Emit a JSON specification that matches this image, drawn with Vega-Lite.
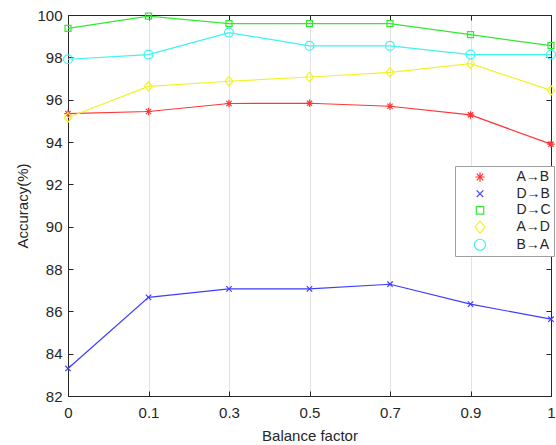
{
  "$schema": "https://vega.github.io/schema/vega-lite/v6.json",
  "width": 483,
  "height": 381,
  "autosize": "none",
  "padding": {"left": 68, "top": 15, "right": 5, "bottom": 49},
  "background": "white",
  "config": {
    "font": "Liberation Sans",
    "view": {"stroke": "#262626", "strokeWidth": 1},
    "axis": {
      "labelFont": "Liberation Sans",
      "titleFont": "Liberation Sans",
      "labelFontSize": 15,
      "titleFontSize": 15,
      "titleFontWeight": "normal",
      "labelColor": "#262626",
      "titleColor": "#262626",
      "domainColor": "#262626",
      "tickColor": "#262626",
      "tickSize": -5,
      "grid": false
    },
    "legend": {
      "labelFont": "Liberation Sans",
      "labelFontSize": 14,
      "labelColor": "#262626"
    }
  },
  "data": {
    "values": [
      {"f": "0", "s": "A→B", "v": 95.34},
      {"f": "0.1", "s": "A→B", "v": 95.44},
      {"f": "0.3", "s": "A→B", "v": 95.82},
      {"f": "0.5", "s": "A→B", "v": 95.83},
      {"f": "0.7", "s": "A→B", "v": 95.69},
      {"f": "0.9", "s": "A→B", "v": 95.28},
      {"f": "1", "s": "A→B", "v": 93.9},
      {"f": "0", "s": "D→B", "v": 83.3},
      {"f": "0.1", "s": "D→B", "v": 86.66},
      {"f": "0.3", "s": "D→B", "v": 87.06},
      {"f": "0.5", "s": "D→B", "v": 87.06},
      {"f": "0.7", "s": "D→B", "v": 87.28},
      {"f": "0.9", "s": "D→B", "v": 86.34},
      {"f": "1", "s": "D→B", "v": 85.63},
      {"f": "0", "s": "D→C", "v": 99.37},
      {"f": "0.1", "s": "D→C", "v": 99.95},
      {"f": "0.3", "s": "D→C", "v": 99.59},
      {"f": "0.5", "s": "D→C", "v": 99.59},
      {"f": "0.7", "s": "D→C", "v": 99.59},
      {"f": "0.9", "s": "D→C", "v": 99.07},
      {"f": "1", "s": "D→C", "v": 98.55},
      {"f": "0", "s": "A→D", "v": 95.16},
      {"f": "0.1", "s": "A→D", "v": 96.63},
      {"f": "0.3", "s": "A→D", "v": 96.87},
      {"f": "0.5", "s": "A→D", "v": 97.07},
      {"f": "0.7", "s": "A→D", "v": 97.29},
      {"f": "0.9", "s": "A→D", "v": 97.7},
      {"f": "1", "s": "A→D", "v": 96.44},
      {"f": "0", "s": "B→A", "v": 97.91},
      {"f": "0.1", "s": "B→A", "v": 98.13},
      {"f": "0.3", "s": "B→A", "v": 99.17},
      {"f": "0.5", "s": "B→A", "v": 98.54},
      {"f": "0.7", "s": "B→A", "v": 98.54},
      {"f": "0.9", "s": "B→A", "v": 98.13},
      {"f": "1", "s": "B→A", "v": 98.13}
    ]
  },
  "layer": [
    {
      "mark": {"type": "line", "strokeWidth": 1.2},
      "encoding": {
        "x": {
          "field": "f", "type": "ordinal",
          "sort": ["0", "0.1", "0.3", "0.5", "0.7", "0.9", "1"],
          "scale": {"type": "point", "padding": 0},
          "axis": {"orient": "bottom", "title": "Balance factor", "labelAngle": 0, "grid": true, "gridColor": "#e3e3e3", "labelPadding": 14, "titlePadding": 8}
        },
        "y": {
          "field": "v", "type": "quantitative",
          "scale": {"domain": [82, 100], "nice": false, "zero": false},
          "axis": {"orient": "left", "title": "Accuracy(%)", "values": [82, 84, 86, 88, 90, 92, 94, 96, 98, 100], "labelPadding": 11, "titlePadding": 6}
        },
        "color": {
          "field": "s", "type": "nominal",
          "scale": {"domain": ["A→B", "D→B", "D→C", "A→D", "B→A"], "range": ["#ff3636", "#3d3dff", "#33e833", "#f2f22a", "#3ff2f2"]},
          "legend": {
            "title": null,
            "orient": "none",
            "legendX": 387,
            "legendY": 151,
            "padding": 2.5,
            "symbolSize": 225,
            "symbolStrokeWidth": 1.2,
            "symbolFillColor": "transparent",
            "symbolOffset": 14,
            "labelOffset": 28,
            "rowPadding": 0.7,
            "strokeColor": "#a0a0a0",
            "fillColor": "white"
          }
        }
      }
    },
    {
      "mark": {"type": "point", "filled": false, "strokeWidth": 1.2, "size": 144, "opacity": 1},
      "encoding": {
        "x": {
          "field": "f", "type": "ordinal",
          "sort": ["0", "0.1", "0.3", "0.5", "0.7", "0.9", "1"],
          "scale": {"type": "point", "padding": 0},
          "axis": {"orient": "top", "title": null, "labels": false, "grid": false}
        },
        "y": {
          "field": "v", "type": "quantitative",
          "scale": {"domain": [82, 100], "nice": false, "zero": false},
          "axis": {"orient": "right", "title": null, "labels": false, "values": [82, 84, 86, 88, 90, 92, 94, 96, 98, 100]}
        },
        "color": {
          "field": "s", "type": "nominal",
          "scale": {"domain": ["A→B", "D→B", "D→C", "A→D", "B→A"], "range": ["#ff3636", "#3d3dff", "#33e833", "#f2f22a", "#3ff2f2"]}
        },
        "shape": {
          "field": "s", "type": "nominal",
          "scale": {
            "domain": ["A→B", "D→B", "D→C", "A→D", "B→A"],
            "range": [
              "M-0.62,0L0.62,0M0,-0.62L0,0.62M-0.44,-0.44L0.44,0.44M-0.44,0.44L0.44,-0.44",
              "M-0.45,-0.45L0.45,0.45M-0.45,0.45L0.45,-0.45",
              "M-0.5,-0.5L0.5,-0.5L0.5,0.5L-0.5,0.5Z",
              "M0,-0.8L0.65,0L0,0.8L-0.65,0Z",
              "M0.74,0A0.74,0.74,0,1,1,-0.74,0A0.74,0.74,0,1,1,0.74,0Z"
            ]
          }
        }
      }
    }
  ],
  "resolve": {"axis": {"x": "independent", "y": "independent"}}
}
